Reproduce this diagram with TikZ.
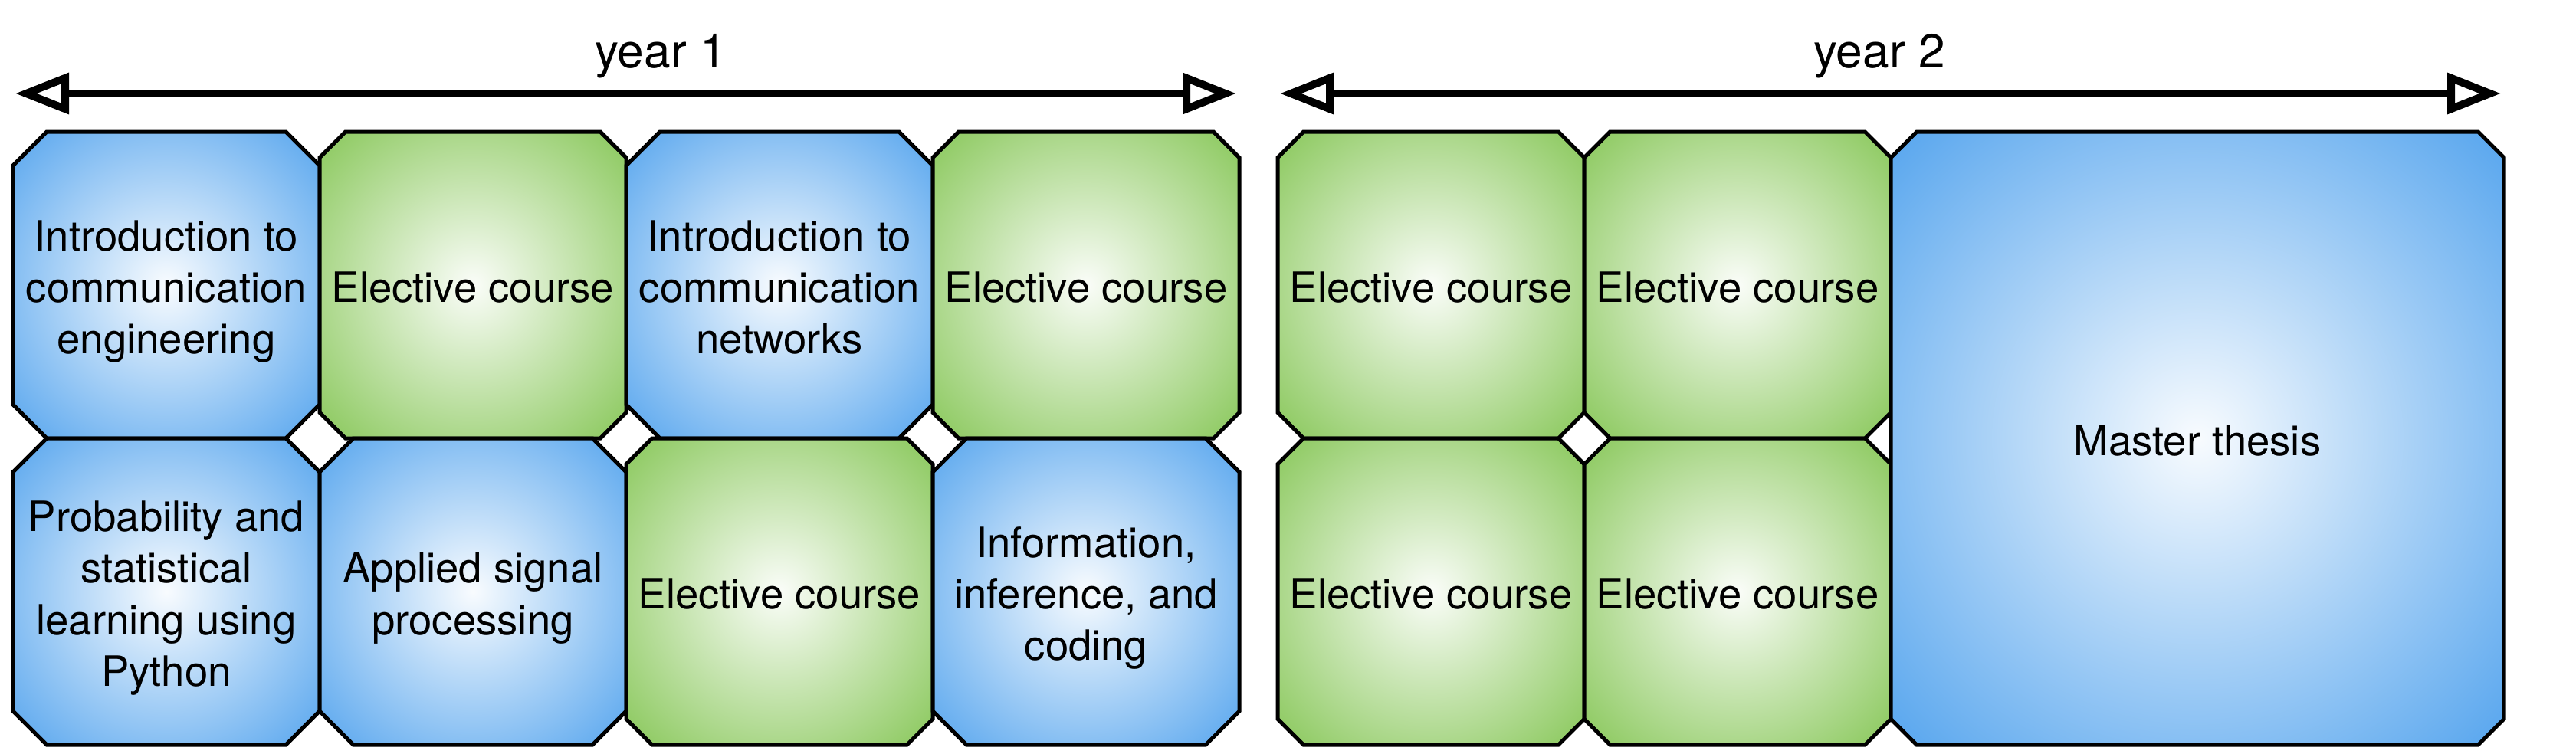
\documentclass[tikz,border=0pt]{standalone}
\usepackage{fontspec}
\setmainfont{TeX Gyre Heros}
\usetikzlibrary{arrows.meta,positioning,shapes.misc}

\definecolor{courseblue}{RGB}{88,166,238}
\definecolor{coursegreen}{RGB}{138,200,92}
\colorlet{blueinner}{courseblue!4!white}
\colorlet{greeninner}{coursegreen!4!white}
\pgfdeclareradialshading{blueshade}{\pgfpoint{0bp}{0bp}}{color(0bp)=(blueinner); color(35bp)=(courseblue); color(50bp)=(courseblue)}
\pgfdeclareradialshading{greenshade}{\pgfpoint{0bp}{0bp}}{color(0bp)=(greeninner); color(35bp)=(coursegreen); color(50bp)=(coursegreen)}

% course title, kept out of the box size
\newcommand{\coursename}[1]{\makebox[0pt]{\raisebox{-0.09cm}[\height][\depth]{\begin{tabular}{@{}c@{}}#1\end{tabular}}}}

\begin{document}
\begin{tikzpicture}[
    course/.style={
        chamfered rectangle,
        chamfered rectangle sep=0.44cm,
        draw=black,
        line width=0.05cm,
        minimum width=4cm,
        minimum height=4cm,
        inner sep=0pt,
        outer sep=0pt,
        font=\fontsize{15.5}{19.2}\selectfont
    },
    core/.style={
        course,
        shading=blueshade
    },
    elective/.style={
        course,
        shading=greenshade
    },
    yeararrow/.style={
        {Triangle[open,length=0.7cm,width=0.52cm]}-{Triangle[open,length=0.7cm,width=0.52cm]},
        line width=0.1cm
    },
    yearlabel/.style={
        font=\fontsize{17.7}{21}\selectfont
    }
]
\useasboundingbox (0,0) rectangle (33.61,9.83);

% Year 1, first row
\node[core] (intro1) at (2.17,6.11) {\coursename{Introduction to\\communication\\engineering}};
\node[elective] (elec1) at (6.17,6.11) {\coursename{Elective course}};
\node[core] (intro2) at (10.17,6.11) {\coursename{Introduction to\\communication\\networks}};
\node[elective] (elec2) at (14.17,6.11) {\coursename{Elective course}};

% Year 1, second row
\node[core] (prob) at (2.17,2.11) {\coursename{Probability and\\statistical\\learning using\\Python}};
\node[core] (signal) at (6.17,2.11) {\coursename{Applied signal\\processing}};
\node[elective] (elec3) at (10.17,2.11) {\coursename{Elective course}};
\node[core] (info) at (14.17,2.11) {\coursename{Information,\\inference, and\\coding}};

% Year 2
\node[elective] (elec4) at (18.67,6.11) {\coursename{Elective course}};
\node[elective] (elec5) at (22.67,6.11) {\coursename{Elective course}};
\node[elective] (elec6) at (18.67,2.11) {\coursename{Elective course}};
\node[elective] (elec7) at (22.67,2.11) {\coursename{Elective course}};
\node[core, minimum width=8cm, minimum height=8cm] (thesis) at (28.67,4.11) {\coursename{Master thesis}};

% Time line
\coordinate (y1start) at (0.20,8.61);
\coordinate (y1end) at (16.13,8.61);
\coordinate (y2start) at (16.70,8.61);
\coordinate (y2end) at (32.63,8.61);
\draw[yeararrow] (y1start) -- (y1end);
\draw[yeararrow] (y2start) -- (y2end);
\node[yearlabel] (year1) at (8.62,9.10) {year 1};
\node[yearlabel] (year2) at (24.52,9.10) {year 2};

\end{tikzpicture}
\end{document}
